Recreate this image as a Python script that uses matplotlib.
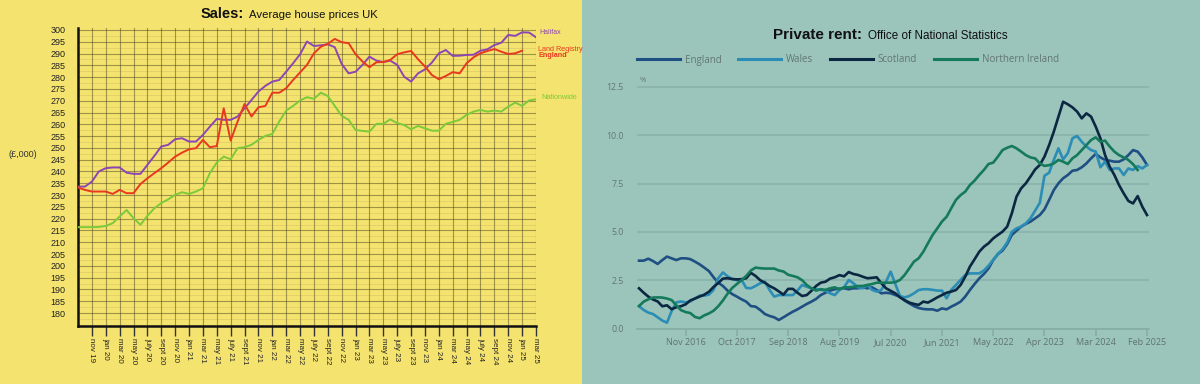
import matplotlib
matplotlib.use("Agg")
import matplotlib.pyplot as plt
from matplotlib.ticker import MultipleLocator
from matplotlib.patches import Rectangle

# ---------------- data: left panel (monthly, Sep 2019 .. Mar 2025) ----------------
sales_tick_labels = ["nov 19", "jan 20", "mar 20", "may 20", "july 20", "sept 20", "nov 20",
                     "jan 21", "mar 21", "may 21", "july 21", "sept 21", "nov 21",
                     "jan 22", "mar 22", "may 22", "july 22", "sept 22", "nov 22",
                     "jan 23", "mar 23", "may 23", "july 23", "sept 23", "nov 23",
                     "jan 24", "mar 24", "may 24", "july 24", "sept 24", "nov 24",
                     "jan 25", "mar 25"]
halifax = [233.6, 233.6, 235.7, 240.0, 241.4, 241.7, 241.7, 239.5, 239.0, 239.0,
           242.8, 246.6, 250.6, 251.3, 253.7, 254.1, 252.7, 252.7, 255.5, 259.0,
           262.3, 261.9, 261.9, 263.3, 266.8, 270.3, 273.9, 276.3, 278.1, 278.8,
           282.3, 285.9, 289.7, 295.1, 293.2, 293.5, 293.9, 292.7, 285.6, 281.6,
           282.3, 285.2, 288.7, 287.0, 286.4, 287.0, 285.2, 280.2, 278.1, 281.6,
           283.3, 286.2, 290.1, 291.5, 289.0, 289.1, 289.4, 289.5, 291.2, 291.8,
           293.6, 294.6, 297.9, 297.5, 299.0, 298.9, 296.9]
land_registry = [233.2, 232.2, 231.5, 231.5, 231.5, 230.5, 232.2, 230.8, 230.8, 234.7,
                 237.1, 239.3, 241.4, 243.8, 246.3, 248.0, 249.4, 249.9, 253.4, 250.3,
                 250.8, 266.8, 253.1, 261.2, 268.6, 263.3, 267.2, 267.8, 273.4, 273.4,
                 275.3, 278.8, 282.0, 285.2, 290.1, 292.9, 294.1, 296.2, 294.8, 294.4,
                 289.7, 286.6, 284.2, 286.3, 286.4, 287.3, 289.7, 290.5, 291.1, 287.6,
                 284.5, 280.9, 279.1, 280.5, 282.1, 281.6, 285.9, 288.4, 290.1, 291.1,
                 291.9, 290.8, 289.8, 290.1, 291.2]
nationwide = [216.4, 216.4, 216.4, 216.5, 216.9, 218.1, 220.9, 223.7, 220.2, 217.4,
              221.2, 224.4, 226.6, 228.2, 230.1, 231.2, 230.5, 231.5, 232.9, 239.3,
              243.8, 246.3, 245.2, 249.9, 250.3, 251.3, 253.4, 255.1, 255.9, 261.2,
              265.8, 267.8, 270.1, 271.5, 270.8, 273.4, 272.0, 267.8, 263.6, 261.9,
              257.6, 257.2, 256.9, 260.2, 260.2, 262.1, 260.5, 259.7, 257.9, 259.3,
              258.3, 257.3, 257.3, 260.2, 261.0, 261.9, 264.0, 265.4, 266.1, 265.4,
              265.8, 265.4, 267.5, 269.2, 267.8, 270.1, 270.6]

# ---------------- data: right panel (monthly %, Jan 2016 .. Feb 2025) ----------------
rent_tick_labels = ["Nov 2016", "Oct 2017", "Sep 2018", "Aug 2019", "Jul 2020",
                    "Jun 2021", "May 2022", "Apr 2023", "Mar 2024", "Feb 2025"]
rent_tick_months = [10, 21, 32, 43, 54, 65, 76, 87, 98, 109]
england = [3.51, 3.51, 3.61, 3.49, 3.34, 3.54, 3.72, 3.63, 3.54, 3.63,
           3.63, 3.59, 3.46, 3.32, 3.15, 2.97, 2.65, 2.37, 2.20, 1.96,
           1.78, 1.65, 1.51, 1.39, 1.16, 1.13, 0.96, 0.75, 0.65, 0.58,
           0.44, 0.58, 0.73, 0.87, 0.99, 1.13, 1.27, 1.39, 1.53, 1.73,
           1.85, 1.96, 2.03, 2.06, 2.08, 2.03, 2.08, 2.08, 2.13, 2.08,
           2.13, 1.99, 1.82, 1.85, 1.82, 1.73, 1.65, 1.44, 1.30, 1.16,
           1.06, 1.01, 0.99, 0.99, 0.92, 1.04, 0.99, 1.13, 1.25, 1.39,
           1.65, 1.99, 2.30, 2.59, 2.82, 3.11, 3.54, 3.85, 4.03, 4.37,
           4.84, 5.06, 5.27, 5.41, 5.53, 5.70, 5.87, 6.16, 6.65, 7.16,
           7.51, 7.77, 7.94, 8.16, 8.20, 8.34, 8.54, 8.80, 9.03, 8.85,
           8.72, 8.68, 8.63, 8.63, 8.75, 8.97, 9.23, 9.15, 8.85, 8.46]
wales = [1.16, 0.96, 0.82, 0.75, 0.58, 0.41, 0.30, 0.90, 1.35, 1.40,
         1.35, 1.40, 1.55, 1.70, 1.70, 1.75, 2.00, 2.60, 2.90, 2.70,
         2.55, 2.50, 2.52, 2.10, 2.08, 2.20, 2.34, 2.42, 2.00, 1.65,
         1.73, 1.73, 1.73, 1.73, 1.96, 2.25, 2.16, 2.08, 2.03, 2.00,
         1.96, 1.82, 1.73, 1.99, 2.13, 2.51, 2.34, 2.13, 2.08, 2.25,
         2.00, 1.91, 1.99, 2.42, 2.94, 2.30, 1.68, 1.61, 1.68, 1.82,
         1.99, 2.03, 2.03, 2.00, 1.96, 1.96, 1.56, 2.00, 2.25, 2.51,
         2.77, 2.85, 2.85, 2.85, 3.00, 3.25, 3.55, 3.85, 4.10, 4.45,
         5.00, 5.18, 5.27, 5.44, 5.70, 6.10, 6.50, 7.90, 8.06, 8.72,
         9.32, 8.75, 9.06, 9.84, 9.96, 9.66, 9.41, 9.23, 9.15, 8.34,
         8.63, 8.20, 8.28, 8.28, 7.94, 8.28, 8.20, 8.40, 8.28, 8.46]
scotland = [2.08, 1.85, 1.65, 1.50, 1.40, 1.15, 1.20, 1.00, 1.10, 1.15,
            1.25, 1.45, 1.55, 1.65, 1.75, 1.90, 2.15, 2.35, 2.58, 2.60,
            2.56, 2.54, 2.55, 2.60, 2.88, 2.72, 2.50, 2.37, 2.20, 2.08,
            1.92, 1.75, 2.05, 2.05, 1.85, 1.68, 1.73, 1.95, 2.20, 2.37,
            2.42, 2.58, 2.65, 2.76, 2.70, 2.92, 2.82, 2.77, 2.68, 2.60,
            2.62, 2.65, 2.34, 2.08, 1.95, 1.82, 1.61, 1.47, 1.34, 1.27,
            1.22, 1.39, 1.34, 1.47, 1.61, 1.73, 1.85, 1.91, 1.99, 2.25,
            2.68, 3.20, 3.58, 3.97, 4.23, 4.41, 4.66, 4.84, 5.01, 5.27,
            5.96, 6.82, 7.25, 7.51, 7.86, 8.23, 8.46, 8.89, 9.49, 10.18,
            10.96, 11.73, 11.60, 11.44, 11.22, 10.87, 11.13, 10.96, 10.44, 9.84,
            8.97, 8.37, 7.94, 7.42, 6.99, 6.60, 6.47, 6.85, 6.30, 5.87]
northern_ireland = [1.16, 1.39, 1.51, 1.60, 1.61, 1.60, 1.55, 1.47, 1.20, 0.95,
                    0.85, 0.80, 0.60, 0.53, 0.68, 0.78, 0.92, 1.15, 1.45, 1.80,
                    2.10, 2.30, 2.50, 2.72, 3.00, 3.15, 3.12, 3.10, 3.10, 3.10,
                    3.00, 2.95, 2.78, 2.72, 2.65, 2.50, 2.25, 2.08, 1.96, 2.03,
                    2.00, 2.08, 2.13, 2.03, 2.13, 2.13, 2.16, 2.20, 2.20, 2.25,
                    2.30, 2.37, 2.37, 2.37, 2.37, 2.40, 2.51, 2.77, 3.11, 3.46,
                    3.63, 3.97, 4.41, 4.84, 5.18, 5.53, 5.78, 6.22, 6.65, 6.90,
                    7.08, 7.42, 7.65, 7.94, 8.20, 8.51, 8.58, 8.89, 9.23, 9.35,
                    9.44, 9.32, 9.15, 8.97, 8.85, 8.80, 8.54, 8.41, 8.45, 8.54,
                    8.72, 8.63, 8.51, 8.80, 8.97, 9.23, 9.49, 9.75, 9.89, 9.66,
                    9.72, 9.41, 9.15, 8.97, 8.85, 8.72, 8.50, 8.20]

# ---------------- styling ----------------
YELLOW = "#f5e36f"
TEAL = "#9bc4bb"
W, H = 1200, 384
SANS = ["Liberation Sans", "DejaVu Sans"]
OPEN = ["Open Sans", "DejaVu Sans"]

fig = plt.figure(figsize=(W / 100, H / 100), dpi=100, facecolor=YELLOW)
fig.patches.append(Rectangle((582 / W, 0), 1 - 582 / W, 1, transform=fig.transFigure,
                             facecolor=TEAL, edgecolor="none", zorder=-10))

def fx(px):
    return px / W

def fy(py):
    return 1 - py / H

# ---------------- left panel ----------------
ax1 = fig.add_axes([fx(78), fy(326), fx(536) - fx(78), fy(27.6) - fy(326)])
ax1.set_facecolor(YELLOW)
ax1.set_xlim(0, 66)
ax1.set_ylim(174.5, 301)

ax1.plot(range(len(halifax)), halifax, color="#8c45b5", lw=1.4, zorder=3)
ax1.plot(range(len(land_registry)), land_registry, color="#e8381e", lw=1.4, zorder=4)
ax1.plot(range(len(nationwide)), nationwide, color="#7cc93a", lw=1.4, zorder=3)

ax1.set_yticks(range(180, 301, 5))
ax1.set_yticklabels([str(v) for v in range(180, 301, 5)], fontsize=6.5,
                    family=SANS, color="#222222")
ax1.yaxis.set_minor_locator(MultipleLocator(2.5))
ax1.tick_params(axis="y", which="both", length=0, pad=9)
ax1.set_xticks(range(2, 67, 2))
ax1.set_xticklabels(sales_tick_labels, rotation=270, fontsize=5.8, family=SANS,
                    color="#222222", va="top", ha="center")
ax1.tick_params(axis="x", length=7, width=1, color="#333333", direction="out", pad=2)
ax1.grid(which="major", color="#4a4420", alpha=0.5, lw=0.8)
ax1.grid(which="minor", axis="y", color="#6a6030", alpha=0.15, lw=0.6)
for s in ["top", "right"]:
    ax1.spines[s].set_visible(False)
for s in ["left", "bottom"]:
    ax1.spines[s].set_color("#111111")
    ax1.spines[s].set_linewidth(1.8)

ax1.text(66.5, 298.8, "Halifax", color="#8c45b5", fontsize=5, family=SANS,
         va="center", ha="left", clip_on=False)
ax1.text(66.3, 291.6, "Land Registry", color="#e8381e", fontsize=5.2, family=SANS,
         va="center", ha="left", clip_on=False)
ax1.text(66.3, 289.0, "England", color="#e8381e", fontsize=5.2, family=SANS,
         weight="bold", va="center", ha="left", clip_on=False)
ax1.text(66.8, 271.2, "Nationwide", color="#7cc93a", fontsize=5.2, family=SANS,
         va="center", ha="left", clip_on=False)

fig.text(fx(23), fy(155), "(£,000)", fontsize=6.5, family=SANS, color="#333333",
         ha="center", va="center")
fig.text(fx(201), fy(14), "Sales:", fontsize=10.5, weight="bold", family=SANS,
         color="#111111", ha="left", va="center")
fig.text(fx(249), fy(15), "Average house prices UK", fontsize=8.2, family=SANS,
         color="#111111", ha="left", va="center")

# ---------------- right panel ----------------
ax2 = fig.add_axes([fx(637), fy(328.5), fx(1149) - fx(637), fy(80) - fy(328.5)])
ax2.set_facecolor("none")
ax2.set_xlim(-0.43, 109.43)
ax2.set_ylim(0, 12.855)

l_eng, = ax2.plot(range(len(england)), england, color="#1f4f82", lw=1.9, label="England")
l_wal, = ax2.plot(range(len(wales)), wales, color="#2b8db5", lw=1.9, label="Wales")
l_sco, = ax2.plot(range(len(scotland)), scotland, color="#0b2741", lw=1.9, label="Scotland")
l_ni, = ax2.plot(range(len(northern_ireland)), northern_ireland, color="#157a5b", lw=1.9,
                 label="Northern Ireland")

yt = [0, 2.5, 5, 7.5, 10, 12.5]
ax2.set_yticks(yt)
ax2.set_yticklabels([f"{v:.1f}" for v in yt], fontsize=6.3, family=OPEN, color="#627773")
ax2.tick_params(axis="y", length=0, pad=9.5)
ax2.set_xticks(rent_tick_months)
ax2.set_xticklabels(rent_tick_labels, fontsize=6.5, family=OPEN, color="#5f7370")
ax2.tick_params(axis="x", length=5, width=1.1, color="#84aca4", pad=2)
ax2.grid(axis="y", color="#88b2a9", lw=1.1)
ax2.grid(axis="x", visible=False)
for s in ["top", "right", "left"]:
    ax2.spines[s].set_visible(False)
ax2.spines["bottom"].set_color("#84aca4")
ax2.spines["bottom"].set_linewidth(1.1)

fig.text(fx(640), fy(80), "%", fontsize=5.5, family=OPEN, color="#627773",
         ha="left", va="center")

leg = ax2.legend(handles=[l_eng, l_wal, l_sco, l_ni], ncol=4, frameon=False,
                 loc="center left", bbox_to_anchor=(fx(637), fy(60)),
                 bbox_transform=fig.transFigure, borderpad=0, borderaxespad=0,
                 handlelength=4.4, handletextpad=0.5, columnspacing=1.75,
                 prop={"family": OPEN, "size": 7})
for t in leg.get_texts():
    t.set_color("#637673")
for ln in leg.get_lines():
    ln.set_linewidth(2.2)

fig.text(fx(773), fy(35), "Private rent:", fontsize=11, weight="bold", family=SANS,
         color="#111111", ha="left", va="center")
fig.text(fx(868), fy(36), "Office of National Statistics", fontsize=8.4, family=SANS,
         color="#111111", ha="left", va="center")

fig.savefig("out.png", dpi=100, facecolor=YELLOW)
